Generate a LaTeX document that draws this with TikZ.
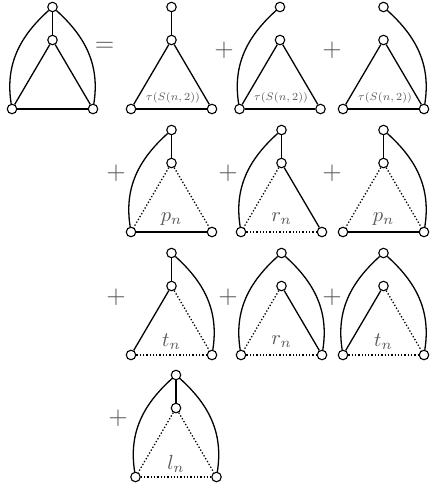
\documentclass[tikz,border=0pt]{standalone}
\usepackage{amsmath}
\newcommand{\gph}[4]{%
  \node[vtx] (#1-t) at (#2,#3) {};
  \node[vtx] (#1-m) at (#2,#3+33) {};
  \node[vtx] (#1-l) at (#2-40.5,#3+102) {};
  \node[vtx] (#1-r) at (#2+40.5,#3+102) {};
  \node[lab] (#1-x) at (#2,#3+89) {#4};
}
\begin{document}
\begin{tikzpicture}[x=1pt,y=-1pt,
  vtx/.style={circle,draw,fill=white,line width=1.1pt,minimum size=9.5pt,inner sep=0pt},
  edge/.style={line width=1.3pt},
  dot/.style={line width=1.3pt,dotted},
  lcurve/.style={edge,out=222,in=99},
  rcurve/.style={edge,out=-42,in=81},
  op/.style={text=black!65,font=\normalsize,scale=2.5,inner sep=0pt},
  lab/.style={text=black!65,font=\normalsize,scale=2.05,inner sep=0pt},
  tau/.style={text=black!65,font=\scriptsize,scale=1.55,inner sep=0pt}]
\useasboundingbox (0,0) rectangle (432,491);
% G1
\gph{a}{52.5}{7}{}
\draw[edge] (a-t) -- (a-m);
\draw[edge] (a-m) -- (a-l); \draw[edge] (a-m) -- (a-r); \draw[edge] (a-l) -- (a-r);
\draw[lcurve] (a-t) to (a-l); \draw[rcurve] (a-t) to (a-r);
\node[op] (eq) at (104.5,47) {$=$};
% G2
\gph{b}{171.5}{7}{}
\node[tau] (b-lab) at (173,98) {$\tau(S(n,2))$};
\draw[edge] (b-t) -- (b-m);
\draw[edge] (b-m) -- (b-l); \draw[edge] (b-m) -- (b-r); \draw[edge] (b-l) -- (b-r);
\node[op] (p1) at (224,50) {$+$};
% G3
\gph{c}{280}{7}{}
\node[tau] (c-lab) at (281,98) {$\tau(S(n,2))$};
\draw[edge] (c-m) -- (c-l); \draw[edge] (c-m) -- (c-r); \draw[edge] (c-l) -- (c-r);
\draw[lcurve] (c-t) to (c-l);
\node[op] (p2) at (332,50) {$+$};
% G4
\gph{d}{383.5}{7}{}
\node[tau] (d-lab) at (385,98) {$\tau(S(n,2))$};
\draw[edge] (d-m) -- (d-l); \draw[edge] (d-m) -- (d-r); \draw[edge] (d-l) -- (d-r);
\draw[rcurve] (d-t) to (d-r);
% Row 2
\node[op] (p3) at (116,173) {$+$};
\gph{e}{171.5}{130}{$p_n$}
\draw[edge] (e-t) -- (e-m);
\draw[dot] (e-m) -- (e-l); \draw[dot] (e-m) -- (e-r); \draw[edge] (e-l) -- (e-r);
\draw[lcurve] (e-t) to (e-l);
\node[op] (p4) at (228,173) {$+$};
\gph{f}{281.5}{130}{$r_n$}
\draw[edge] (f-t) -- (f-m);
\draw[dot] (f-m) -- (f-l); \draw[edge] (f-m) -- (f-r); \draw[dot] (f-l) -- (f-r);
\draw[lcurve] (f-t) to (f-l);
\node[op] (p5) at (332,173) {$+$};
\gph{g}{383.5}{130}{$p_n$}
\draw[edge] (g-t) -- (g-m);
\draw[dot] (g-m) -- (g-l); \draw[dot] (g-m) -- (g-r); \draw[edge] (g-l) -- (g-r);
\draw[rcurve] (g-t) to (g-r);
% Row 3
\node[op] (p6) at (116,297) {$+$};
\gph{h}{171.5}{253}{$t_n$}
\draw[edge] (h-t) -- (h-m);
\draw[edge] (h-m) -- (h-l); \draw[dot] (h-m) -- (h-r); \draw[dot] (h-l) -- (h-r);
\draw[rcurve] (h-t) to (h-r);
\node[op] (p7) at (228,297) {$+$};
\gph{i}{281.5}{253}{$r_n$}
\draw[dot] (i-m) -- (i-l); \draw[edge] (i-m) -- (i-r); \draw[dot] (i-l) -- (i-r);
\draw[lcurve] (i-t) to (i-l); \draw[rcurve] (i-t) to (i-r);
\node[op] (p8) at (332,297) {$+$};
\gph{j}{383.5}{253}{$t_n$}
\draw[edge] (j-m) -- (j-l); \draw[dot] (j-m) -- (j-r); \draw[dot] (j-l) -- (j-r);
\draw[lcurve] (j-t) to (j-l); \draw[rcurve] (j-t) to (j-r);
% Row 4
\node[op] (p9) at (118,418) {$+$};
\gph{k}{176}{375}{$l_n$}
\draw[edge] (k-t) -- (k-m);
\draw[dot] (k-m) -- (k-l); \draw[dot] (k-m) -- (k-r); \draw[dot] (k-l) -- (k-r);
\draw[lcurve] (k-t) to (k-l); \draw[rcurve] (k-t) to (k-r);
\end{tikzpicture}
\end{document}
